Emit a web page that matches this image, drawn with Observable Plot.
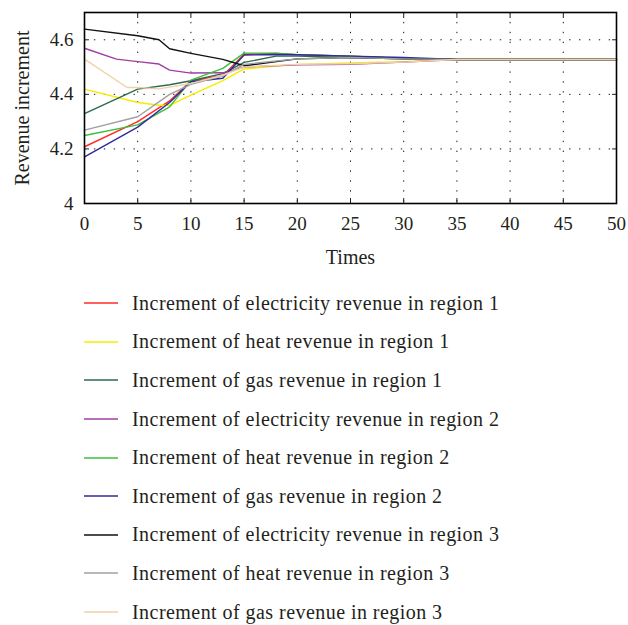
<!DOCTYPE html>
<html>
<head>
<meta charset="utf-8">
<script src="https://cdn.jsdelivr.net/npm/d3@7"></script>
<script src="https://cdn.jsdelivr.net/npm/@observablehq/plot@0.6"></script>
<style>
  html, body { margin: 0; padding: 0; background: #fff; }
  #chart { width: 628px; font-family: "Liberation Serif", "DejaVu Serif", serif; color: #231f20; }
  .legend { padding-top: 9px; }
  .legend .row { display: flex; align-items: center; height: 38.6px; }
  .legend svg { margin-left: 84px; margin-right: 14px; flex: none; }
  .legend span { font-size: 20px; letter-spacing: 0.45px; white-space: nowrap; }
</style>
</head>
<body>
<div id="chart"></div>
<script>
// Sampled iterations (null = no breakpoint for that series at this time)
const times = [0, 3, 4, 5, 7, 8, 10, 13, 15, 18, 20, 25, 30, 35, 50];

const elecR1 = [4.208, null, null, 4.300, null, 4.376, 4.450, 4.468, 4.547, 4.550, 4.545, 4.540, 4.532, 4.528, 4.528];
const heatR1 = [4.419, null, null, 4.370, 4.360, 4.360, 4.397, 4.450, 4.493, null, 4.510, 4.515, 4.520, 4.528, 4.528];
const gasR1  = [4.329, null, null, 4.419, null, 4.435, 4.450, 4.476, 4.517, 4.540, 4.540, 4.535, 4.530, 4.528, 4.528];
const elecR2 = [4.569, 4.529, null, 4.520, 4.511, 4.489, 4.478, 4.479, 4.500, null, 4.508, 4.510, 4.518, 4.528, 4.528];
const heatR2 = [4.249, null, null, 4.288, null, 4.354, 4.452, 4.495, 4.551, 4.551, 4.545, 4.540, 4.532, 4.528, 4.528];
const gasR2  = [4.171, null, null, 4.280, null, 4.370, 4.446, 4.459, 4.544, 4.546, 4.545, 4.540, 4.535, 4.528, 4.528];
const elecR3 = [4.639, null, null, 4.615, 4.600, 4.567, 4.550, 4.528, 4.505, null, 4.530, 4.535, 4.530, 4.528, 4.528];
const heatR3 = [4.269, null, null, 4.318, null, 4.400, 4.437, 4.468, 4.510, null, 4.530, 4.535, 4.530, 4.528, 4.528];
const gasR3  = [4.529, null, 4.425, 4.425, 4.420, null, 4.440, 4.470, 4.500, null, 4.510, 4.512, 4.518, 4.528, 4.528];

const seriesNames = [
  "Increment of electricity revenue in region 1",
  "Increment of heat revenue in region 1",
  "Increment of gas revenue in region 1",
  "Increment of electricity revenue in region 2",
  "Increment of heat revenue in region 2",
  "Increment of gas revenue in region 2",
  "Increment of electricity revenue in region 3",
  "Increment of heat revenue in region 3",
  "Increment of gas revenue in region 3"
];
const seriesValues = [elecR1, heatR1, gasR1, elecR2, heatR2, gasR2, elecR3, heatR3, gasR3];
const seriesColors = ["#ff2a2a", "#f5ec00", "#2d6a50", "#a23ea2", "#3cbf3c", "#2e2b9c", "#111111", "#a0a0a0", "#f0d2aa"];

const xTicks = [0, 5, 10, 15, 20, 25, 30, 35, 40, 45, 50];
const yTicks = [4, 4.2, 4.4, 4.6];
const yTickLabels = ["4", "4.2", "4.4", "4.6"];

// Long-format rows for the line marks
const rows = [];
seriesNames.forEach((name, i) => {
  seriesValues[i].forEach((v, j) => {
    if (v != null) rows.push({series: name, t: times[j], v});
  });
});

const font = "Liberation Serif";
const textColor = "#231f20";

const plot = Plot.plot({
  width: 628,
  height: 275,
  marginLeft: 84,
  marginRight: 12,
  marginTop: 12,
  marginBottom: 72,
  style: {fontFamily: font, fontSize: "19px", color: textColor, background: "#fff"},
  x: {domain: [0, 50], label: null},
  y: {domain: [4, 4.7], label: null},
  color: {domain: seriesNames, range: seriesColors},
  marks: [
    Plot.gridX(xTicks, {stroke: "#000", strokeOpacity: 0.9, strokeDasharray: "1.4,8.5"}),
    Plot.gridY(yTicks.slice(1), {stroke: "#000", strokeOpacity: 0.9, strokeDasharray: "1.4,8.5"}),
    Plot.line(rows, {x: "t", y: "v", z: "series", stroke: "series", strokeWidth: 1.4}),
    Plot.axisX({ticks: xTicks, tickSize: -5, tickPadding: 18, fontSize: 19, fill: textColor, tickFormat: d => String(d)}),
    Plot.axisX({anchor: "top", ticks: xTicks, tickSize: -5, tickFormat: () => ""}),
    Plot.axisY({ticks: yTicks, tickSize: -5, tickPadding: 16, fontSize: 19, fill: textColor,
                tickFormat: d => yTickLabels[yTicks.indexOf(d)]}),
    Plot.axisY({anchor: "right", ticks: yTicks, tickSize: -5, tickFormat: () => ""}),
    Plot.frame({stroke: "#000", strokeWidth: 1.6}),
    Plot.text(["Times"], {frameAnchor: "bottom", dy: 54, fontSize: 20, fill: textColor,
                          textAnchor: "middle", lineAnchor: "middle"}),
    Plot.text(["Revenue increment"], {frameAnchor: "left", dx: -62, rotate: -90, fontSize: 20, fill: textColor,
                                      textAnchor: "middle", lineAnchor: "middle"})
  ]
});

const root = document.getElementById("chart");
root.appendChild(plot);

// Legend below the plot
const legend = document.createElement("div");
legend.className = "legend";
seriesNames.forEach((name, i) => {
  const row = document.createElement("div");
  row.className = "row";
  row.innerHTML = `<svg width="34" height="4"><line x1="0" x2="34" y1="2" y2="2" stroke="${seriesColors[i]}" stroke-width="1.4"/></svg><span>${name}</span>`;
  legend.appendChild(row);
});
root.appendChild(legend);
</script>
</body>
</html>
